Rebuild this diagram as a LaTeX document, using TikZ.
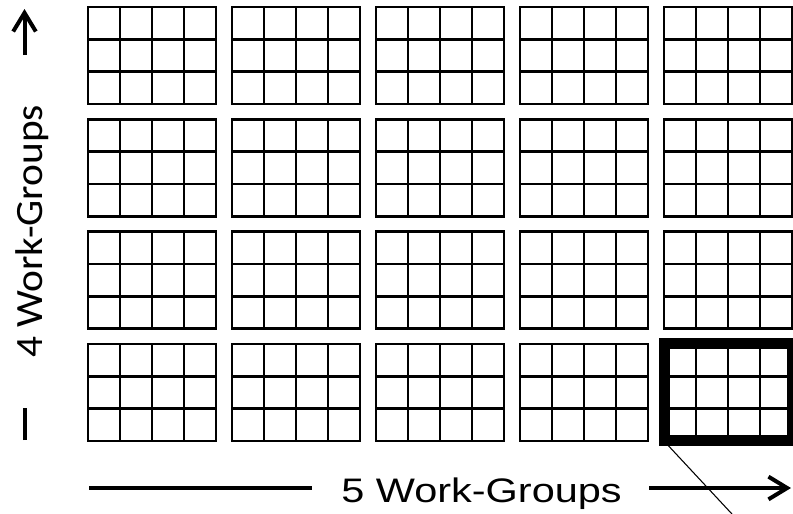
\documentclass[tikz,border=0pt]{standalone}
\usepackage{graphicx}
\usepackage{fontspec}
\setmainfont{Liberation Sans}
\newfontfamily\calfont{Carlito}
\usetikzlibrary{arrows.meta}
\begin{document}
\begin{tikzpicture}[x=0.75pt,y=-0.75pt,
  block/.style={draw,line width=2pt,minimum width=96pt,minimum height=72.75pt,inner sep=0pt,outer sep=0pt},
  gridline/.style={line width=2pt},
  hiline/.style={line width=8.25pt,line join=miter},
  thin/.style={line width=0.8pt},
  axis/.style={line width=3pt},
  tipped/.style={-{Straight Barb[length=14pt,width=17pt]}},
  lab/.style={inner sep=0pt,outer sep=0pt}]
\useasboundingbox (0,0) rectangle (793,514);
\begin{scope}
\clip (0,0) rectangle (793,514);
\foreach \i in {0,...,4} {
  \foreach \j in {0,...,3} {
    \pgfmathsetmacro\bx{88+144*\i+64}
    \pgfmathsetmacro\by{7+112.33*\j+48.5}
    \node[block] (b-\i-\j) at (\bx,\by) {};
    \foreach \k in {1,2,3}
      \draw[gridline] ([xshift=\k*24pt]b-\i-\j.north west) -- ([xshift=\k*24pt]b-\i-\j.south west);
    \foreach \k in {1,2}
      \draw[gridline] ([yshift=-\k*24.25pt]b-\i-\j.north west) -- ([yshift=-\k*24.25pt]b-\i-\j.north east);
  }
}
\coordinate (zoomend) at (745,528);
\draw[thin] (b-4-3.south west) -- (zoomend);
\draw[hiline] (b-4-3.north west) rectangle (b-4-3.south east);
\end{scope}
% axis labels
\node[lab,anchor=base,font=\fontsize{25.5pt}{30pt}\selectfont] (hlab) at (481.5,502) {\scalebox{1.22}[1]{5 Work-Groups}};
\node[lab,rotate=90,anchor=base,font=\calfont\fontsize{29pt}{34pt}\selectfont] (vlab) at (42,231.5) {\scalebox{1.07}[1]{4 Work-Groups}};
% horizontal axis
\coordinate (hstart) at (89,488);
\coordinate (hgapl) at (312,488);
\coordinate (hgapr) at (649,488);
\coordinate (hend) at (791,488);
\draw[axis] (hstart) -- (hgapl);
\draw[axis,tipped] (hgapr) -- (hend);
% vertical axis
\coordinate (vstart) at (24.5,440);
\coordinate (vgapl) at (24.5,408);
\coordinate (vgapu) at (24.5,55);
\coordinate (vend) at (24.5,9);
\draw[axis] (vstart) -- (vgapl);
\draw[axis,tipped] (vgapu) -- (vend);
\end{tikzpicture}
\end{document}
